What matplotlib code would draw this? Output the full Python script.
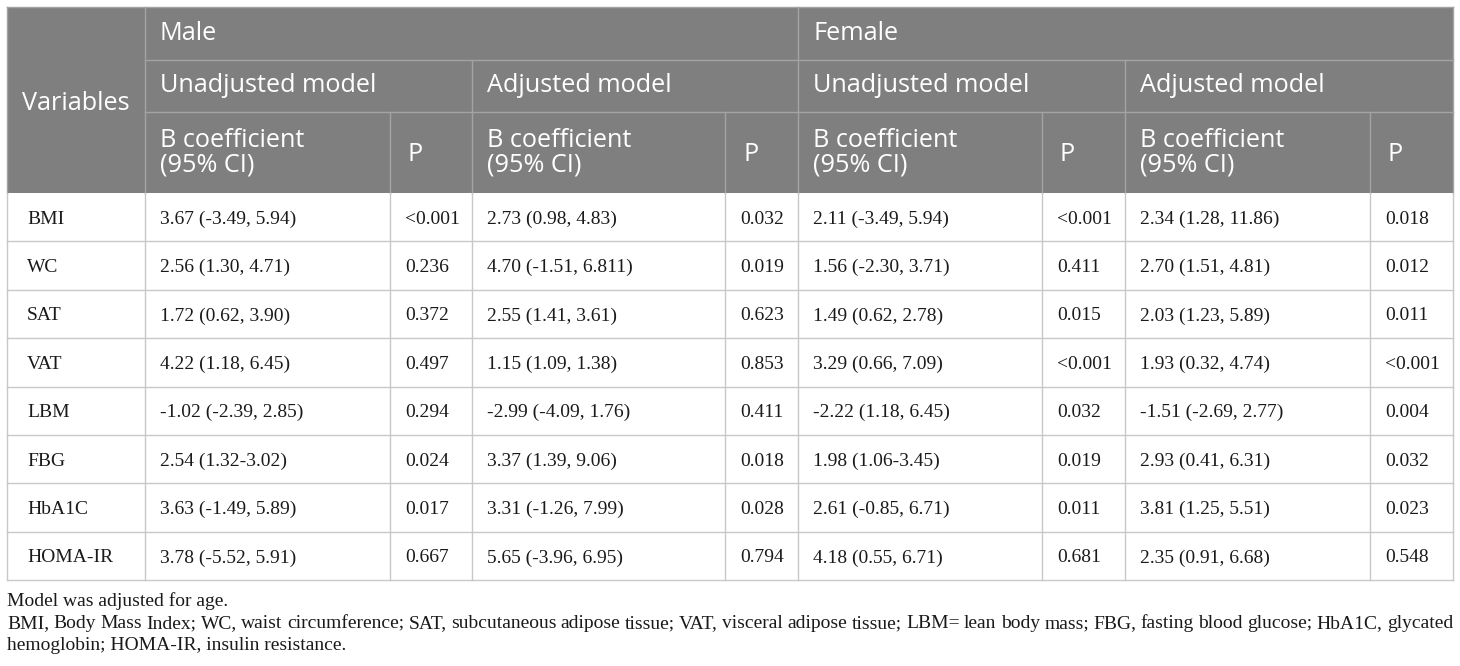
import matplotlib.pyplot as plt

variables = ['BMI', 'WC', 'SAT', 'VAT', 'LBM', 'FBG', 'HbA1C', 'HOMA-IR']
male_unadj_b = ['3.67 (-3.49, 5.94)', '2.56 (1.30, 4.71)', '1.72 (0.62, 3.90)', '4.22 (1.18, 6.45)',
                '-1.02 (-2.39, 2.85)', '2.54 (1.32-3.02)', '3.63 (-1.49, 5.89)', '3.78 (-5.52, 5.91)']
male_unadj_p = ['<0.001', '0.236', '0.372', '0.497', '0.294', '0.024', '0.017', '0.667']
male_adj_b = ['2.73 (0.98, 4.83)', '4.70 (-1.51, 6.811)', '2.55 (1.41, 3.61)', '1.15 (1.09, 1.38)',
              '-2.99 (-4.09, 1.76)', '3.37 (1.39, 9.06)', '3.31 (-1.26, 7.99)', '5.65 (-3.96, 6.95)']
male_adj_p = ['0.032', '0.019', '0.623', '0.853', '0.411', '0.018', '0.028', '0.794']
female_unadj_b = ['2.11 (-3.49, 5.94)', '1.56 (-2.30, 3.71)', '1.49 (0.62, 2.78)', '3.29 (0.66, 7.09)',
                  '-2.22 (1.18, 6.45)', '1.98 (1.06-3.45)', '2.61 (-0.85, 6.71)', '4.18 (0.55, 6.71)']
female_unadj_p = ['<0.001', '0.411', '0.015', '<0.001', '0.032', '0.019', '0.011', '0.681']
female_adj_b = ['2.34 (1.28, 11.86)', '2.70 (1.51, 4.81)', '2.03 (1.23, 5.89)', '1.93 (0.32, 4.74)',
                '-1.51 (-2.69, 2.77)', '2.93 (0.41, 6.31)', '3.81 (1.25, 5.51)', '2.35 (0.91, 6.68)']
female_adj_p = ['0.018', '0.012', '0.011', '<0.001', '0.004', '0.032', '0.023', '0.548']

groups = ['Male', 'Female']
models = ['Unadjusted model', 'Adjusted model']
note1 = 'Model was adjusted for age.'
note2 = ('BMI, Body Mass Index; WC, waist circumference; SAT, subcutaneous adipose tissue; '
         'VAT, visceral adipose tissue; LBM= lean body mass; FBG, fasting blood glucose; HbA1C, glycated')
note3 = 'hemoglobin; HOMA-IR, insulin resistance.'

# layout in pixels
W, H = 1460, 666
xs = [7, 145, 390, 472, 725, 798, 1042, 1125, 1370, 1453]
hy = [7, 60, 112, 193]
row_h = 48.4
bottom = hy[3] + row_h * len(variables)
pad = 15

head_bg = '#7f7f7f'
head_line = '#a3a3a3'
body_line = '#c8c8c8'
txt = '#1a1a1a'
sans = 'Open Sans'
serif = 'Liberation Serif'
hsize = 18.2
bsize = 14

fig = plt.figure(figsize=(W / 100, H / 100), dpi=100)
ax = fig.add_axes([0, 0, 1, 1])
ax.set_xlim(0, W)
ax.set_ylim(H, 0)
ax.axis('off')

# header block
ax.fill_between([xs[0], xs[-1]], hy[0], hy[3], color=head_bg, lw=0)
# header lines
ax.plot([xs[0], xs[-1]], [hy[0], hy[0]], color=head_line, lw=1)
ax.plot([xs[1], xs[-1]], [hy[1], hy[1]], color=head_line, lw=1)
ax.plot([xs[1], xs[-1]], [hy[2], hy[2]], color=head_line, lw=1)
ax.plot([xs[1], xs[1]], [hy[0], hy[3]], color=head_line, lw=1)
ax.plot([xs[5], xs[5]], [hy[0], hy[3]], color=head_line, lw=1)
for i in (3, 7):
    ax.plot([xs[i], xs[i]], [hy[1], hy[3]], color=head_line, lw=1)
for i in (2, 4, 6, 8):
    ax.plot([xs[i], xs[i]], [hy[2], hy[3]], color=head_line, lw=1)
ax.plot([xs[0], xs[0]], [hy[0], hy[3]], color=head_line, lw=1)
ax.plot([xs[-1], xs[-1]], [hy[0], hy[3]], color=head_line, lw=1)

# header text
ax.text(xs[0] + pad, (hy[0] + hy[3]) / 2 + 4, 'Variables', color='white', fontsize=hsize,
        family=sans, ha='left', va='center')
for g, gi in zip(groups, (1, 5)):
    ax.text(xs[gi] + pad, (hy[0] + hy[1]) / 2, g, color='white', fontsize=hsize,
            family=sans, ha='left', va='center')
for mi in (1, 3, 5, 7):
    ax.text(xs[mi] + pad, (hy[1] + hy[2]) / 2, models[(mi // 2) % 2], color='white',
            fontsize=hsize, family=sans, ha='left', va='center')
for ci in (1, 3, 5, 7):
    ax.text(xs[ci] + pad, (hy[2] + hy[3]) / 2, 'B coefficient\n(95% CI)', color='white',
            fontsize=hsize, family=sans, ha='left', va='center', linespacing=0.97)
    ax.text(xs[ci + 1] + pad + 3, (hy[2] + hy[3]) / 2 + 2, 'P', color='white',
            fontsize=hsize, family=sans, ha='left', va='center')

# body
columns = [variables, male_unadj_b, male_unadj_p, male_adj_b, male_adj_p,
           female_unadj_b, female_unadj_p, female_adj_b, female_adj_p]
for r in range(len(variables)):
    y0 = hy[3] + r * row_h
    ax.plot([xs[0], xs[-1]], [y0 + row_h, y0 + row_h], color=body_line, lw=1)
    for c, col in enumerate(columns):
        dx = 20 if c == 0 else pad
        ax.text(xs[c] + dx, y0 + row_h / 2, col[r], fontsize=bsize, family=serif,
                color=txt, ha='left', va='center_baseline')
for x in xs:
    ax.plot([x, x], [hy[3], bottom], color=body_line, lw=1)

# footnotes (baseline aligned)
fy = bottom + 26
ax.text(xs[0], fy, note1, fontsize=bsize, family=serif, color=txt, ha='left', va='baseline')

# justified second line
fig.canvas.draw()
renderer = fig.canvas.get_renderer()
words = note2.split(' ')
widths = []
arts = []
for w in words:
    t = ax.text(0, fy + 22, w, fontsize=bsize, family=serif, color=txt, ha='left', va='baseline')
    widths.append(t.get_window_extent(renderer).width)
    arts.append(t)
gap = (xs[-1] - xs[0] - sum(widths)) / (len(words) - 1)
x = xs[0]
for t, wd in zip(arts, widths):
    t.set_x(x)
    x += wd + gap
ax.text(xs[0], fy + 44, note3, fontsize=bsize, family=serif, color=txt, ha='left', va='baseline')

fig.savefig('out.png', dpi=100)
